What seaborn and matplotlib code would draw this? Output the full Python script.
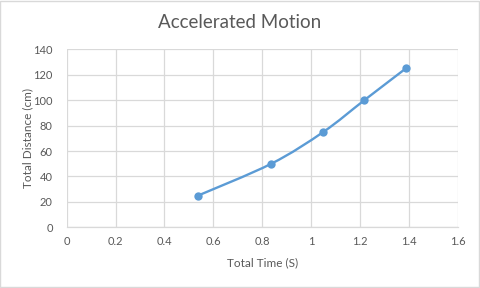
import numpy as np
import pandas as pd
import matplotlib
matplotlib.use("Agg")
import matplotlib.pyplot as plt
from matplotlib.path import Path
from matplotlib.patches import PathPatch, Rectangle
import seaborn as sns

time_s = [0.538, 0.837, 1.05, 1.218, 1.388]
distance_cm = [25, 50, 75, 100, 125]
x_ticks = [0, 0.2, 0.4, 0.6, 0.8, 1, 1.2, 1.4, 1.6]
x_tick_labels = ["0", "0.2", "0.4", "0.6", "0.8", "1", "1.2", "1.4", "1.6"]
y_ticks = [0, 20, 40, 60, 80, 100, 120, 140]

sns.set_theme(style="white")
plt.rcParams['font.family'] = ['Lato', 'DejaVu Sans']

color = "#5B9BD5"
text_col = "#595959"
grid_col = "#D9D9D9"

fig = plt.figure(figsize=(4.8, 2.88), dpi=100)
ax = fig.add_axes([0.139, 0.2108, 0.8146, 0.618])

df = pd.DataFrame({"t": time_s, "d": distance_cm})

# Smoothed line (Excel-style Bezier) drawn as a path through data points
pts = np.column_stack([time_s, distance_cm]).astype(float)
n = len(pts)
verts = [pts[0]]
codes = [Path.MOVETO]
for i in range(n - 1):
    p0 = pts[i - 1] if i > 0 else pts[i]
    p1 = pts[i]
    p2 = pts[i + 1]
    p3 = pts[i + 2] if i + 2 < n else pts[i + 1]
    c1 = p1 + (p2 - p0) / 6.0
    c2 = p2 - (p3 - p1) / 6.0
    verts += [c1, c2, p2]
    codes += [Path.CURVE4] * 3
ax.add_patch(PathPatch(Path(verts, codes), facecolor="none", edgecolor=color, lw=1.7, zorder=3))

sns.scatterplot(data=df, x="t", y="d", ax=ax, color=color, s=36, edgecolor=color, linewidth=0, zorder=4)

ax.set_xlim(0, 1.6)
ax.set_ylim(0, 140)
ax.set_xticks(x_ticks)
ax.set_xticklabels(x_tick_labels)
ax.set_yticks(y_ticks)
ax.grid(True, color=grid_col, lw=0.9)
ax.set_axisbelow(True)
for s in ["top", "right", "left"]:
    ax.spines[s].set_visible(False)
ax.spines["bottom"].set_color(grid_col)
ax.spines["bottom"].set_linewidth(0.9)
ax.tick_params(axis="x", length=0, labelsize=8, labelcolor=text_col, pad=6)
ax.tick_params(axis="y", length=0, labelsize=8, labelcolor=text_col, pad=10)
ax.set_xlabel("Total Time (S)", fontsize=8.5, color=text_col, labelpad=8)
ax.set_ylabel("Total Distance (cm)", fontsize=8.5, color=text_col)
ax.yaxis.set_label_coords(-0.086, 0.5)

fig.text(0.5, 0.922, "Accelerated Motion", ha="center", va="center", fontsize=13.5, color=text_col)
fig.patches.append(Rectangle((0.001, 0.002), 0.997, 0.995, transform=fig.transFigure,
                             fill=False, edgecolor="#D9D9D9", lw=1))

fig.savefig("out.png", dpi=100)
